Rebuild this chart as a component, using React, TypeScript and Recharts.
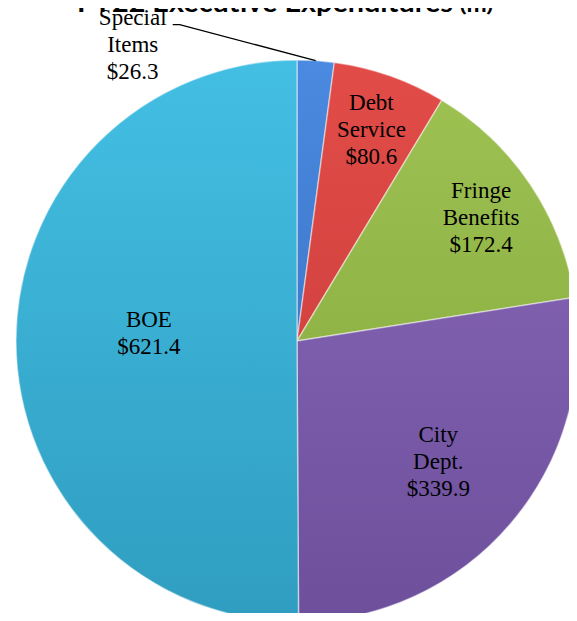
import React from 'react';
import { PieChart, Pie, Cell } from 'recharts';

// FY22 executive expenditures, in millions
const CATEGORIES = ['Special Items', 'Debt Service', 'Fringe Benefits', 'City Dept.', 'BOE'];
const AMOUNTS = [26.3, 80.6, 172.4, 339.9, 621.4];
const COLORS_TOP = ['#4a8ae0', '#e24c48', '#9fc253', '#8b6bbb', '#43bfe3'];
const COLORS_BOTTOM = ['#3468b8', '#c43a37', '#82a53b', '#6d4f9c', '#2f9dc0'];

const TITLE = 'FY22 Executive Expenditures';
const TITLE_UNIT = '(m)';

const RAD = Math.PI / 180;
const LINE_H = 27;

// where each label sits, as a share of the radius (Excel "best fit" look)
const labelPlace: Record<string, { r: number; dy: number }> = {
  'Debt Service': { r: 0.8, dy: 0 },
  'Fringe Benefits': { r: 0.79, dy: 0 },
  'City Dept.': { r: 0.66, dy: 0 },
  BOE: { r: 0.527, dy: -9 },
};

const data = CATEGORIES.map((name, i) => ({ name, value: AMOUNTS[i] }));

const renderLabel = (props: any) => {
  const { cx, cy, midAngle, outerRadius, name, value } = props;
  const lines = [...String(name).split(' '), `$${Number(value).toFixed(1)}`];
  const cos = Math.cos(-midAngle * RAD);
  const sin = Math.sin(-midAngle * RAD);
  const textStyle = { fontFamily: '"Liberation Serif", "Times New Roman", serif', fontSize: 23, fill: '#000' };

  if (name === 'Special Items') {
    // small slice: label outside with a leader line
    const ox = cx + outerRadius * cos;
    const oy = cy + outerRadius * sin;
    const tx = ox - 183;
    const ty = oy - 9;
    return (
      <g>
        <polyline
          points={`${ox},${oy} ${ox - 136},${oy - 36} ${ox - 143},${oy - 36}`}
          fill="none"
          stroke="#000"
          strokeWidth={1.3}
        />
        {lines.map((l, i) => (
          <text key={i} x={tx} y={ty + (i - 1) * LINE_H} textAnchor="middle" style={textStyle}>
            {l}
          </text>
        ))}
      </g>
    );
  }

  const place = labelPlace[name] || { r: 0.6, dy: 0 };
  const x = cx + outerRadius * place.r * cos;
  const y = cy + outerRadius * place.r * sin + place.dy;
  const n = lines.length;
  return (
    <g>
      {lines.map((l, i) => (
        <text key={i} x={x} y={y + (i - (n - 1) / 2) * LINE_H + 8} textAnchor="middle" style={textStyle}>
          {l}
        </text>
      ))}
    </g>
  );
};

export default function App() {
  return (
    <div style={{ position: 'relative', width: 577, height: 621, margin: -8, background: '#fff', overflow: 'hidden' }}>
      <PieChart width={577} height={621} margin={{ top: 0, right: 0, bottom: 0, left: 0 }}>
        <defs>
          {CATEGORIES.map((c, i) => (
            <linearGradient key={c} id={`grad${i}`} x1="0" y1="60" x2="0" y2="622" gradientUnits="userSpaceOnUse">
              <stop offset="0%" stopColor={COLORS_TOP[i]} />
              <stop offset="100%" stopColor={COLORS_BOTTOM[i]} />
            </linearGradient>
          ))}
        </defs>
        <Pie
          data={data}
          dataKey="value"
          nameKey="name"
          cx={297}
          cy={341}
          outerRadius={281}
          startAngle={90}
          endAngle={-270}
          stroke="rgba(255,255,255,0.45)"
          strokeWidth={1.5}
          label={renderLabel}
          labelLine={false}
          isAnimationActive={false}
        >
          {data.map((d, i) => (
            <Cell key={d.name} fill={`url(#grad${i})`} />
          ))}
        </Pie>
      </PieChart>
      <svg width={577} height={30} style={{ position: 'absolute', left: 0, top: 0, pointerEvents: 'none' }}>
        <text
          x={77}
          y={12}
          textLength={376}
          lengthAdjust="spacingAndGlyphs"
          style={{ fontFamily: 'Lato, "Open Sans", sans-serif', fontWeight: 700, fontSize: 26, fill: '#000' }}
        >
          {TITLE}
        </text>
        <text
          x={460}
          y={12}
          textLength={33}
          lengthAdjust="spacingAndGlyphs"
          style={{ fontFamily: 'Lato, "Open Sans", sans-serif', fontWeight: 700, fontSize: 16, fill: '#000' }}
        >
          {TITLE_UNIT}
        </text>
      </svg>
    </div>
  );
}
